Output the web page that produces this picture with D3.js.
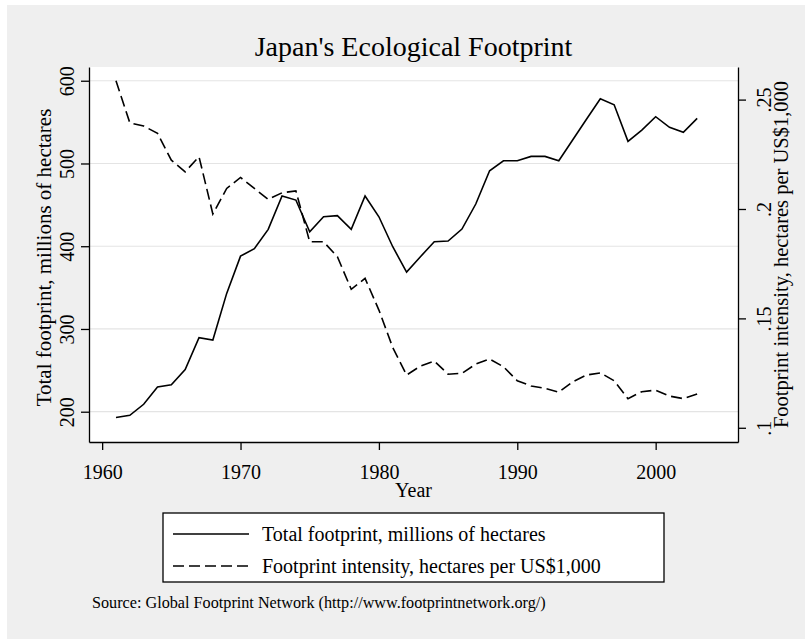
<!DOCTYPE html>
<html>
<head>
<meta charset="utf-8">
<script src="https://cdn.jsdelivr.net/npm/d3@7"></script>
<style>
  body { margin: 0; background: #ffffff; }
  svg text { font-family: "Liberation Serif", "Times New Roman", serif; fill: #000; }
</style>
</head>
<body>
<div class="chart"></div>
<script>
// Japan's Ecological Footprint - two axis line plot

var years = [1961, 1962, 1963, 1964, 1965, 1966, 1967, 1968, 1969, 1970,
             1971, 1972, 1973, 1974, 1975, 1976, 1977, 1978, 1979, 1980,
             1981, 1982, 1983, 1984, 1985, 1986, 1987, 1988, 1989, 1990,
             1991, 1992, 1993, 1994, 1995, 1996, 1997, 1998, 1999, 2000,
             2001, 2002, 2003];

// total footprint, millions of hectares (left axis)
var totalFootprint = [193, 195.6, 209, 229.8, 232.6, 251, 289.4, 286.6, 343, 388,
                      397, 420.4, 460.7, 455.8, 417.5, 435.6, 436.9, 420.4, 460.7, 435.6,
                      399.4, 368.8, 387.3, 405.4, 406.3, 420.8, 451, 491.2, 503.3, 503.3,
                      508.6, 508.6, 503.3, 528.3, 553.4, 578.3, 571, 526.7, 540.4, 556.5,
                      543.7, 537.6, 554.5];

// footprint intensity, hectares per US$1,000 (right axis)
var intensity = [0.2586, 0.2394, 0.2379, 0.2346, 0.2223, 0.217, 0.2239, 0.1977, 0.2094, 0.2144,
                 0.2094, 0.2044, 0.2074, 0.2083, 0.185, 0.185, 0.1782, 0.1633, 0.1683, 0.1538,
                 0.1367, 0.1241, 0.1282, 0.1305, 0.1245, 0.1249, 0.1291, 0.1314, 0.1279, 0.1215,
                 0.1191, 0.118, 0.1163, 0.121, 0.1241, 0.1251, 0.1215, 0.1133, 0.1165, 0.1172,
                 0.1145, 0.1133, 0.1154];

var xTicks = [1960, 1970, 1980, 1990, 2000];
var leftTicks = [200, 300, 400, 500, 600];
var rightTicks = [0.1, 0.15, 0.2, 0.25];
var rightTickLabels = [".1", ".15", ".2", ".25"];

var seriesNames = ["Total footprint, millions of hectares",
                   "Footprint intensity, hectares per US$1,000"];

// plot area
var W = 805, H = 639;
var plot = {left: 89, right: 738, top: 67, bottom: 442};

var svg = d3.select(".chart")
  .append("svg")
    .attr("width", W)
    .attr("height", H);

// grey outer background
svg.append("rect")
    .attr("x", 7).attr("y", 5)
    .attr("width", W - 7).attr("height", H - 5)
    .attr("fill", "#efefef");

svg.append("rect")
    .attr("x", plot.left).attr("y", plot.top)
    .attr("width", plot.right - plot.left)
    .attr("height", plot.bottom - plot.top)
    .attr("fill", "#ffffff");

// scales
var x = d3.scaleLinear()
    .domain([1959.05, 2005.95])
    .range([plot.left, plot.right]);

var yL = d3.scaleLinear()
    .domain([163.4, 616.6])
    .range([plot.bottom, plot.top]);

var yR = d3.scaleLinear()
    .domain([0.0935, 0.2649])
    .range([plot.bottom, plot.top]);

// gridlines from left axis
svg.append("g")
  .selectAll("line")
  .data(leftTicks)
  .enter()
  .append("line")
    .attr("x1", plot.left)
    .attr("x2", plot.right)
    .attr("y1", function(d) { return yL(d); })
    .attr("y2", function(d) { return yL(d); })
    .attr("stroke", "#e4e4e4")
    .attr("stroke-width", 1.2);

// X axis
var gx = svg.append("g")
    .attr("transform", "translate(0," + plot.bottom + ")")
    .call(d3.axisBottom(x).tickValues(xTicks).tickFormat(d3.format("d")).tickSize(8).tickSizeOuter(0));
gx.selectAll("text")
    .attr("y", 37)
    .attr("dy", 0)
    .style("font-size", "20px");

// left Y axis
var gl = svg.append("g")
    .attr("transform", "translate(" + plot.left + ",0)")
    .call(d3.axisLeft(yL).tickValues(leftTicks).tickSize(8).tickSizeOuter(0));
gl.selectAll("text")
    .attr("transform", "rotate(-90)")
    .attr("x", 0)
    .attr("y", -15)
    .attr("dy", 0)
    .style("text-anchor", "middle")
    .style("font-size", "20px");

// right Y axis
var gr = svg.append("g")
    .attr("transform", "translate(" + plot.right + ",0)")
    .call(d3.axisRight(yR).tickValues(rightTicks)
      .tickFormat(function(d, i) { return rightTickLabels[i]; })
      .tickSize(8).tickSizeOuter(0));
gr.selectAll("text")
    .attr("transform", "rotate(-90)")
    .attr("x", 0)
    .attr("y", 33)
    .attr("dy", 0)
    .style("text-anchor", "middle")
    .style("font-size", "20px");

svg.selectAll(".domain, .tick line")
    .attr("stroke", "#000")
    .attr("stroke-width", 1.3);

// lines
var lineTotal = d3.line()
    .x(function(d, i) { return x(years[i]); })
    .y(function(d) { return yL(d); });

var lineIntensity = d3.line()
    .x(function(d, i) { return x(years[i]); })
    .y(function(d) { return yR(d); });

svg.append("path")
    .datum(totalFootprint)
    .attr("d", lineTotal)
    .attr("fill", "none")
    .attr("stroke", "#000")
    .attr("stroke-width", 1.6)
    .attr("stroke-linejoin", "miter");

svg.append("path")
    .datum(intensity)
    .attr("d", lineIntensity)
    .attr("fill", "none")
    .attr("stroke", "#000")
    .attr("stroke-width", 1.6)
    .attr("stroke-dasharray", "11,5");

// title
svg.append("text")
    .attr("x", (plot.left + plot.right) / 2)
    .attr("y", 56)
    .style("text-anchor", "middle")
    .style("font-size", "28px")
    .text("Japan's Ecological Footprint");

// axis titles
svg.append("text")
    .attr("x", (plot.left + plot.right) / 2)
    .attr("y", 497)
    .style("text-anchor", "middle")
    .style("font-size", "20px")
    .text("Year");

svg.append("text")
    .attr("transform", "translate(51," + ((plot.top + plot.bottom) / 2 + 3) + ") rotate(-90)")
    .style("text-anchor", "middle")
    .style("font-size", "21px")
    .text(seriesNames[0]);

svg.append("text")
    .attr("transform", "translate(788," + ((plot.top + plot.bottom) / 2) + ") rotate(-90)")
    .style("text-anchor", "middle")
    .style("font-size", "20.5px")
    .text(seriesNames[1]);

// legend
var legend = svg.append("g");
legend.append("rect")
    .attr("x", 163).attr("y", 513)
    .attr("width", 501).attr("height", 69)
    .attr("fill", "#ffffff")
    .attr("stroke", "#000")
    .attr("stroke-width", 1.3);

var dashes = [null, "11,5"];
seriesNames.forEach(function(name, i) {
  var ly = 534 + i * 32;
  legend.append("line")
      .attr("x1", 173).attr("x2", 249)
      .attr("y1", ly).attr("y2", ly)
      .attr("stroke", "#000")
      .attr("stroke-width", 1.6)
      .attr("stroke-dasharray", dashes[i]);
  legend.append("text")
      .attr("x", 262)
      .attr("y", ly + 7)
      .style("font-size", "20px")
      .text(name);
});

// note
svg.append("text")
    .attr("x", 92)
    .attr("y", 608)
    .style("font-size", "16.2px")
    .text("Source: Global Footprint Network (http://www.footprintnetwork.org/)");
</script>
</body>
</html>
